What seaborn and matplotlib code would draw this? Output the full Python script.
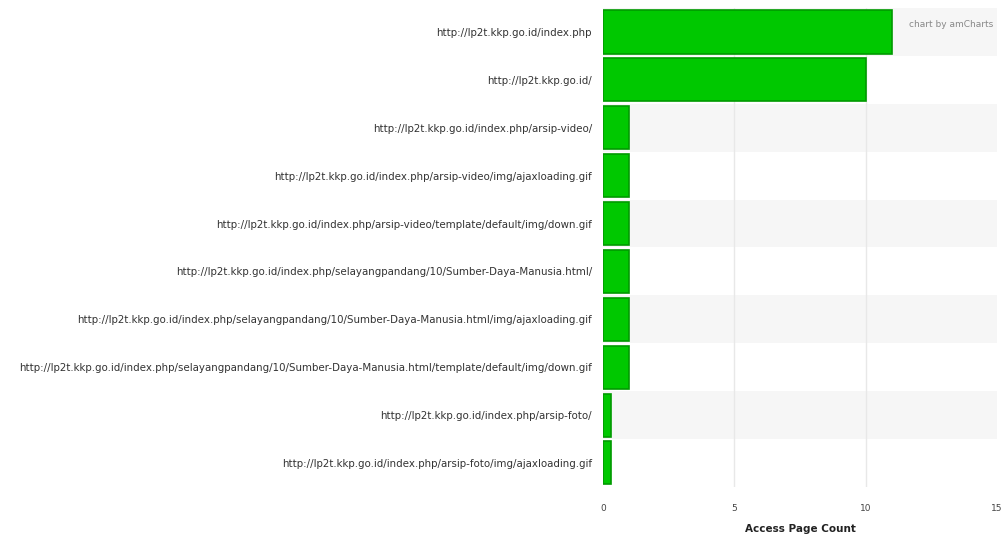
import pandas as pd
import numpy as np
import matplotlib.pyplot as plt
import seaborn as sns

# pages and their access counts
pages = [
    "http://lp2t.kkp.go.id/index.php",
    "http://lp2t.kkp.go.id/",
    "http://lp2t.kkp.go.id/index.php/arsip-video/",
    "http://lp2t.kkp.go.id/index.php/arsip-video/img/ajaxloading.gif",
    "http://lp2t.kkp.go.id/index.php/arsip-video/template/default/img/down.gif",
    "http://lp2t.kkp.go.id/index.php/selayangpandang/10/Sumber-Daya-Manusia.html/",
    "http://lp2t.kkp.go.id/index.php/selayangpandang/10/Sumber-Daya-Manusia.html/img/ajaxloading.gif",
    "http://lp2t.kkp.go.id/index.php/selayangpandang/10/Sumber-Daya-Manusia.html/template/default/img/down.gif",
    "http://lp2t.kkp.go.id/index.php/arsip-foto/",
    "http://lp2t.kkp.go.id/index.php/arsip-foto/img/ajaxloading.gif",
]
counts = [11, 10, 1, 1, 1, 1, 1, 1, 0.3, 0.3]
xticks = [0, 5, 10, 15]

df = pd.DataFrame({'Page': pages, 'Count': counts})

sns.set_style('white')
plt.rcParams['font.family'] = ['DejaVu Sans']

fig = plt.figure(figsize=(10.04, 5.38), dpi=100)
ax = fig.add_axes([0.6006, 0.095, 0.3924, 0.890])

# alternating row shading
for i in range(len(pages)):
    if i % 2 == 0:
        ax.axhspan(i - 0.5, i + 0.5, color='#f6f6f6', zorder=0, lw=0)

sns.barplot(data=df, y='Page', x='Count', orient='h', color='#00c800',
            edgecolor='#009a00', linewidth=1.2, width=0.9, saturation=1, ax=ax, zorder=3)

ax.set_xlim(0, 15)
ax.set_ylim(len(pages) - 0.5, -0.5)
ax.set_xticks(xticks)
ax.set_xticklabels([str(t) for t in xticks], fontsize=6.5, color='#444444')
ax.tick_params(axis='y', labelsize=7.4, labelcolor='#333333', length=0, pad=8)
ax.tick_params(axis='x', length=0, pad=12)
for x in [5, 10]:
    ax.axvline(x, color='#e8e8e8', lw=1, zorder=1)
ax.set_ylabel('')
ax.set_xlabel('Access Page Count', fontsize=7.5, fontweight='bold', color='#222222', labelpad=8)
for s in ax.spines.values():
    s.set_visible(False)

ax.text(0.99, 0.975, 'chart by amCharts', transform=ax.transAxes, ha='right', va='top',
        fontsize=6.5, color='#888888', zorder=5)

fig.savefig('out.png', dpi=100)
